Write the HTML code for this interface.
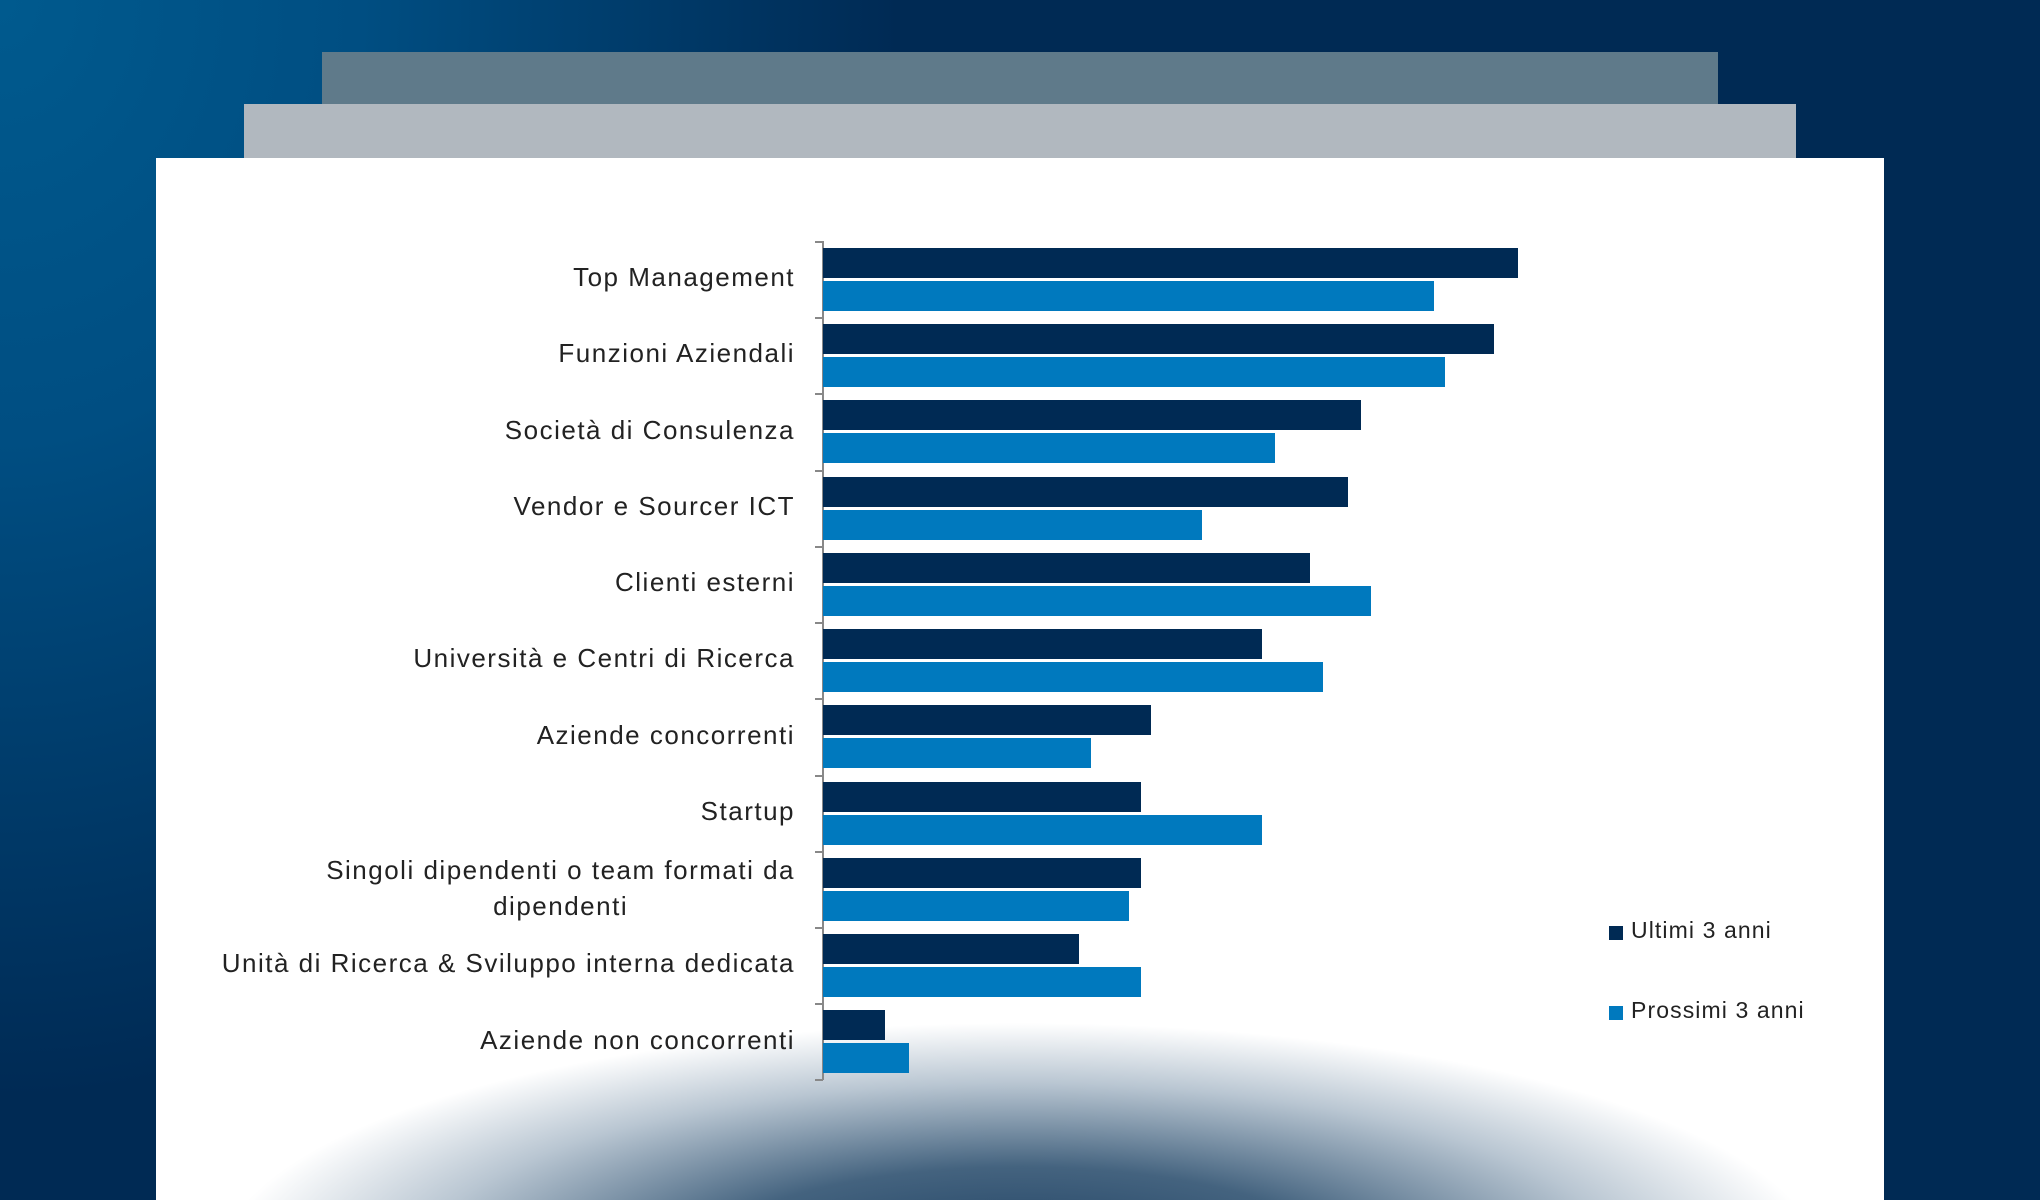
<!DOCTYPE html>
<html><head><meta charset="utf-8"><style>
*{margin:0;padding:0;box-sizing:border-box}
body{width:2040px;height:1200px;overflow:hidden;position:relative;font-family:"Liberation Sans",sans-serif;
background:radial-gradient(ellipse 900px 1100px at 0px 0px,#005a8e 0%,#004e82 40%,#002a54 100%);background-color:#002a54}
.p{position:absolute}
.lab{position:absolute;right:1245px;font-size:26px;color:#222;letter-spacing:1.5px;text-align:center;line-height:36px;white-space:nowrap}
.b{position:absolute;left:823px;height:30px}
.d{background:#002a54}.l{background:#0079be}
.tk{position:absolute;left:815px;width:8px;height:1.5px;background:#888}
</style></head><body>
<div class="p" style="left:322px;top:52px;width:1396px;height:110px;background:#5f7a8a"></div>
<div class="p" style="left:244px;top:104px;width:1552px;height:60px;background:#b1b8bf"></div>
<div class="p" style="left:156px;top:158px;width:1728px;height:1042px;background:#fff radial-gradient(ellipse 800px 240px at 864px 1105px,#1c3e60 0%,#44637f 40%,#b9c6d2 75%,rgba(255,255,255,0) 100%) no-repeat"></div>
<div class="p" style="left:822px;top:241px;width:1.5px;height:839px;background:#888"></div>
<div class="tk" style="top:241px"></div><div class="tk" style="top:317px"></div><div class="tk" style="top:393px"></div><div class="tk" style="top:470px"></div><div class="tk" style="top:546px"></div><div class="tk" style="top:622px"></div><div class="tk" style="top:698px"></div><div class="tk" style="top:775px"></div><div class="tk" style="top:851px"></div><div class="tk" style="top:927px"></div><div class="tk" style="top:1003px"></div><div class="tk" style="top:1079px"></div>

<div class="b d" style="top:248px;width:695px"></div><div class="b l" style="top:281px;width:611px"></div>
<div class="b d" style="top:324px;width:671px"></div><div class="b l" style="top:357px;width:622px"></div>
<div class="b d" style="top:400px;width:538px"></div><div class="b l" style="top:433px;width:452px"></div>
<div class="b d" style="top:477px;width:525px"></div><div class="b l" style="top:510px;width:379px"></div>
<div class="b d" style="top:553px;width:487px"></div><div class="b l" style="top:586px;width:548px"></div>
<div class="b d" style="top:629px;width:439px"></div><div class="b l" style="top:662px;width:500px"></div>
<div class="b d" style="top:705px;width:328px"></div><div class="b l" style="top:738px;width:268px"></div>
<div class="b d" style="top:782px;width:318px"></div><div class="b l" style="top:815px;width:439px"></div>
<div class="b d" style="top:858px;width:318px"></div><div class="b l" style="top:891px;width:306px"></div>
<div class="b d" style="top:934px;width:256px"></div><div class="b l" style="top:967px;width:318px"></div>
<div class="b d" style="top:1010px;width:62px"></div><div class="b l" style="top:1043px;width:86px"></div>

<div class="lab" style="top:259px">Top Management</div>
<div class="lab" style="top:335px">Funzioni Aziendali</div>
<div class="lab" style="top:412px">Società di Consulenza</div>
<div class="lab" style="top:488px">Vendor e Sourcer ICT</div>
<div class="lab" style="top:564px">Clienti esterni</div>
<div class="lab" style="top:640px">Università e Centri di Ricerca</div>
<div class="lab" style="top:717px">Aziende concorrenti</div>
<div class="lab" style="top:793px">Startup</div>
<div class="lab" style="top:852px">Singoli dipendenti o team formati da<br>dipendenti</div>
<div class="lab" style="top:945px">Unità di Ricerca &amp; Sviluppo interna dedicata</div>
<div class="lab" style="top:1022px">Aziende non concorrenti</div>

<div class="p" style="left:1609px;top:926px;width:14px;height:14px;background:#002a54"></div>
<div class="p" style="left:1631px;top:917px;font-size:23px;color:#222;letter-spacing:1.1px">Ultimi 3 anni</div>
<div class="p" style="left:1609px;top:1006px;width:14px;height:14px;background:#0079be"></div>
<div class="p" style="left:1631px;top:997px;font-size:23px;color:#222;letter-spacing:1.1px">Prossimi 3 anni</div>
</body></html>
